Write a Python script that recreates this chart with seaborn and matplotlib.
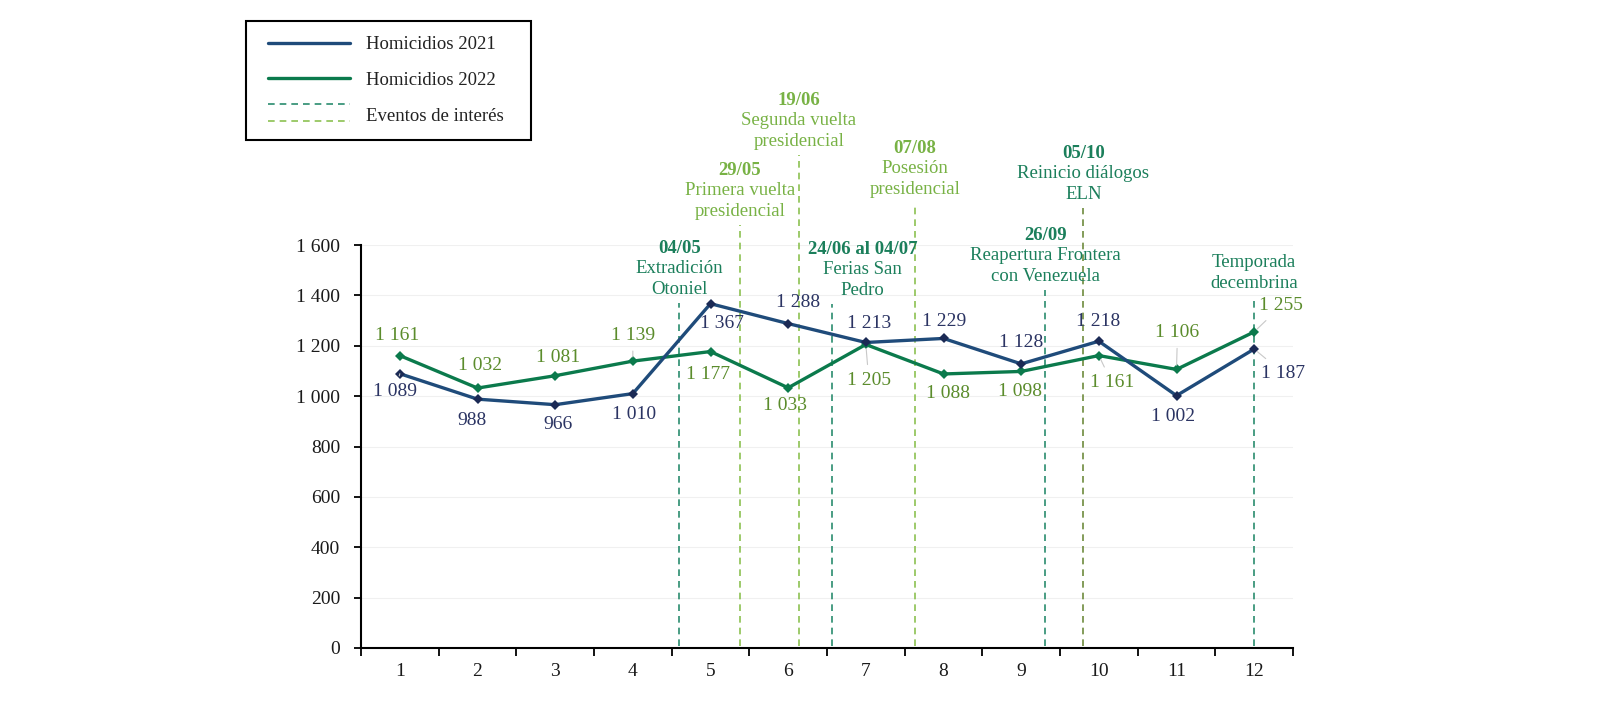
import numpy as np
import pandas as pd
import matplotlib
matplotlib.use("Agg")
import matplotlib.pyplot as plt
import seaborn as sns
from matplotlib.lines import Line2D
from matplotlib.legend_handler import HandlerBase

# ---------------- data ----------------
meses = [1, 2, 3, 4, 5, 6, 7, 8, 9, 10, 11, 12]
homicidios_2021 = [1089, 988, 966, 1010, 1367, 1288, 1213, 1229, 1128, 1218, 1002, 1187]
homicidios_2022 = [1161, 1032, 1081, 1139, 1177, 1033, 1205, 1088, 1098, 1161, 1106, 1255]
y_ticks = [0, 200, 400, 600, 800, 1000, 1200, 1400, 1600]

evento_fechas = ["04/05", "29/05", "19/06", "24/06 al 04/07", "07/08", "26/09", "05/10", ""]
evento_textos = ["Extradición\nOtoniel", "Primera vuelta\npresidencial",
                 "Segunda vuelta\npresidencial", "Ferias San\nPedro",
                 "Posesión\npresidencial", "Reapertura Frontera\ncon Venezuela",
                 "Reinicio diálogos\nELN", "Temporada\ndecembrina"]
evento_mes = [4.60, 5.38, 6.14, 6.57, 7.63, 9.31, 9.80, 12.0]

# ---------------- layout / style ----------------
evento_tope = [1370, 1679, 1957, 1366, 1768, 1421, 1747, 1395]
evento_dx = [0, 0, 0, 30, 0, 0, 0, 0]
evento_tipo = ["d", "l", "l", "d", "l", "d", "d", "d"]
evento_linea = ["#2a8c6e", "#8cc152", "#8cc152", "#2a8c6e", "#8cc152", "#2a8c6e", "#6e8b3d", "#2a8c6e"]
txt_color = {"d": "#1b7f5b", "l": "#78b245"}

off21 = [(-5, 18), (-6, 21), (3, 20), (1, 21), (11, 20), (10, -21), (3, -19), (1, -17),
         (0, -21), (-1, -20), (-3, 21), (29, 24)]
lead21 = [True, False, False, False, False, False, False, False, False, False, False, True]
off22 = [(-3, -20), (3, -23), (3, -18), (0, -26), (-2, 23), (-3, 18), (3, 36), (4, 20),
         (-1, 20), (13, 27), (1, -37), (27, -26)]
lead22 = [False, False, False, True, False, False, True, False, False, True, True, True]

c21 = "#1f4b7a"
c22 = "#0b7a4c"
lab21 = "#2b3463"
lab22 = "#5b8c2c"

sns.set_theme(style="white")
plt.rcParams["font.family"] = ["Liberation Serif", "DejaVu Serif"]

fig = plt.figure(figsize=(16, 7.05), dpi=100)
ax = fig.add_axes([361 / 1600, 1 - 648 / 705, (1293 - 361) / 1600, (648 - 245) / 705])

df = pd.DataFrame({
    "Mes": meses * 2,
    "Homicidios": homicidios_2021 + homicidios_2022,
    "Serie": ["Homicidios 2021"] * 12 + ["Homicidios 2022"] * 12,
})
sns.lineplot(data=df, x="Mes", y="Homicidios", hue="Serie",
             hue_order=["Homicidios 2022", "Homicidios 2021"],
             palette={"Homicidios 2021": c21, "Homicidios 2022": c22},
             marker="D", markersize=5, markeredgewidth=0, linewidth=2.4,
             legend=False, ax=ax, zorder=3)
for ln in ax.lines:
    if ln.get_color() == c21:
        ln.set_markerfacecolor("#1b2a55")

ax.set_xlim(0.5, 12.5)
ax.set_ylim(0, 1600)
ax.set_xticks(meses)
ax.set_xticklabels([str(m) for m in meses])
ax.set_xticks(np.arange(0.5, 13, 1), minor=True)
ax.set_yticks(y_ticks)
ax.set_yticklabels([f"{v:,}".replace(",", " ") for v in y_ticks])
ax.tick_params(axis="x", which="major", length=0, pad=11, labelsize=14, labelcolor="#1a1a1a")
ax.tick_params(axis="x", which="minor", length=6, width=1.3, direction="out", color="black", bottom=True)
ax.tick_params(axis="y", length=5, width=1.3, direction="out", color="black", pad=10,
               labelsize=14, labelcolor="#1a1a1a", left=True)
for s in ["top", "right"]:
    ax.spines[s].set_visible(False)
for s in ["left", "bottom"]:
    ax.spines[s].set_color("black")
    ax.spines[s].set_linewidth(1.5)
ax.grid(axis="y", color="#f0f0f0", lw=0.8)
ax.set_axisbelow(True)
ax.set_xlabel("")
ax.set_ylabel("")

fmt = lambda v: f"{v:,}".replace(",", " ")
leader = dict(arrowstyle="-", color="#c8c8c8", lw=0.8, shrinkA=3, shrinkB=3)
for vals, offs, leads, col in [(homicidios_2021, off21, lead21, lab21),
                               (homicidios_2022, off22, lead22, lab22)]:
    for m, v, (dx, dy), ld in zip(meses, vals, offs, leads):
        ax.annotate(fmt(v), xy=(m, v), xytext=(dx, -dy), textcoords="offset pixels",
                    ha="center", va="center", fontsize=14, color=col, zorder=5,
                    arrowprops=leader if ld else None)

# events
for x, top, f, t, tp, lc, dx in zip(evento_mes, evento_tope, evento_fechas, evento_textos,
                                     evento_tipo, evento_linea, evento_dx):
    ax.plot([x, x], [8, top], ls=(0, (4, 3)), color=lc, lw=1.2, clip_on=False, zorder=2)
    tc = txt_color[tp]
    desc = ax.annotate(t, xy=(x, top), xytext=(dx, 5), textcoords="offset pixels",
                       ha="center", va="bottom", fontsize=13.5, color=tc,
                       linespacing=1.3, annotation_clip=False)
    if f:
        ax.annotate(f, xy=(0.5, 1), xycoords=desc, xytext=(0, 3), textcoords="offset pixels",
                    ha="center", va="bottom", fontsize=13.5, fontweight="bold", color=tc,
                    annotation_clip=False)

# legend
class LegendKey:
    def __init__(self, colors, dashed):
        self.colors = colors
        self.dashed = dashed

class KeyHandler(HandlerBase):
    def create_artists(self, legend, orig_handle, xdescent, ydescent, width, height, fontsize, trans):
        inset = 5.0
        x0, x1 = -xdescent + inset, -xdescent + width
        yc = (height - ydescent) / 2.0
        arts = []
        if orig_handle.dashed:
            for c, dy in zip(orig_handle.colors, [7.2, -5.0]):
                l = Line2D([x0, x1], [yc + dy, yc + dy], color=c, lw=1.2, ls=(0, (4, 3)))
                l.set_transform(trans)
                arts.append(l)
        else:
            l = Line2D([x0, x1], [yc, yc], color=orig_handle.colors[0], lw=2.4)
            l.set_transform(trans)
            arts.append(l)
        return arts

handles = [LegendKey([c21], False), LegendKey([c22], False), LegendKey(["#2a8c6e", "#8cc152"], True)]
labels = ["Homicidios 2021", "Homicidios 2022", "Eventos de interés"]
leg = fig.legend(handles, labels, handler_map={LegendKey: KeyHandler()},
                 loc="upper left",
                 bbox_to_anchor=(246 / 1600, 1 - 21 / 705, (531 - 246) / 1600, 0.0),
                 mode="expand",
                 bbox_transform=fig.transFigure, borderaxespad=0, frameon=True,
                 fancybox=False, edgecolor="black", framealpha=1, fontsize=13.5,
                 handlelength=4.74, handletextpad=0.85, labelspacing=1.0, borderpad=0.8)
leg.get_frame().set_linewidth(1.5)
for tx in leg.get_texts():
    tx.set_color("#222222")

fig.savefig("out.png", dpi=100)
